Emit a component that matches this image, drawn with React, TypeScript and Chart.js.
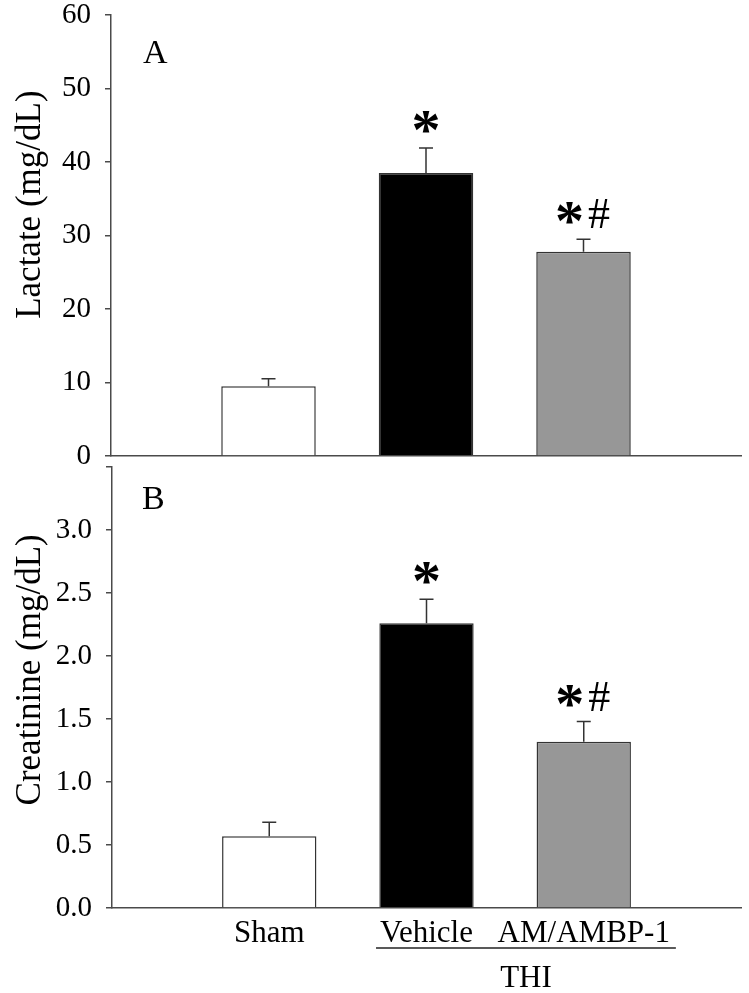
import React, { useEffect, useRef } from 'react';
import { Chart, registerables } from 'chart.js';

Chart.register(...registerables);

// ---- data ----
const categories = ['Sham', 'Vehicle', 'AM/AMBP-1'];
const groupLabel = 'THI';
const groupMembers = ['Vehicle', 'AM/AMBP-1'];

const lactateMeans = [9.5, 38.5, 27.8];
const lactateErrors = [1.0, 3.4, 1.7];
const lactateMarks = ['', '*', '*#'];
const lactateTicks = [0, 10, 20, 30, 40, 50, 60];

const creatinineMeans = [0.57, 2.26, 1.32];
const creatinineErrors = [0.11, 0.19, 0.16];
const creatinineMarks = ['', '*', '*#'];
const creatinineTicks = [0, 0.5, 1.0, 1.5, 2.0, 2.5, 3.0, 3.5];
const creatinineLabelledTicks = [0, 0.5, 1.0, 1.5, 2.0, 2.5, 3.0];

const barColors = ['#ffffff', '#000000', '#979797'];

const SERIF = "'Liberation Serif', 'Times New Roman', serif";
const AXIS_COLOR = '#4a4a4a';

type PanelProps = {
  means: number[];
  errors: number[];
  marks: string[];
  ticks: number[];
  tickLabel: (v: number) => string;
  yMax: number;
  yTitle: string;
  panelLetter: string;
  letterOffset: { dx: number; dy: number };
  showXLabels: boolean;
  canvasTop: number;
  canvasHeight: number;
  padding: { top: number; right: number; bottom: number; left: number };
  yWidth: number;
  xHeight: number;
  titleCenterFrac: number;
};

function Panel(p: PanelProps) {
  const ref = useRef<HTMLCanvasElement | null>(null);
  useEffect(() => {
    if (!ref.current) return;
    const labels = ['', ...categories, ''];
    const data = [null, ...p.means, null];
    const colors = ['#fff', ...barColors, '#fff'];

    const overlay = {
      id: 'overlay' + p.panelLetter,
      afterDatasetsDraw(chart: any) {
        const ctx = chart.ctx;
        const meta = chart.getDatasetMeta(0);
        const ys = chart.scales.y;
        const xs = chart.scales.x;
        const area = chart.chartArea;
        ctx.save();
        // error bars
        p.means.forEach((m, i) => {
          const el = meta.data[i + 1];
          const x = el.x;
          const yBar = ys.getPixelForValue(m);
          const yTop = ys.getPixelForValue(m + p.errors[i]);
          ctx.strokeStyle = '#333';
          ctx.lineWidth = 1.5;
          ctx.beginPath();
          ctx.moveTo(x, yBar);
          ctx.lineTo(x, yTop);
          ctx.moveTo(x - 7, yTop);
          ctx.lineTo(x + 7, yTop);
          ctx.stroke();
          // significance marks
          const mark = p.marks[i];
          if (mark) {
            const parts = mark.split('');
            const fonts = parts.map((c) => (c === '*' ? `bold 58px ${SERIF}` : `44px ${SERIF}`));
            const boxes = parts.map((c, k) => {
              ctx.font = fonts[k];
              const mt = ctx.measureText(c);
              return {
                left: mt.actualBoundingBoxLeft,
                right: mt.actualBoundingBoxRight,
                ascent: mt.actualBoundingBoxAscent,
                descent: mt.actualBoundingBoxDescent,
              };
            });
            const gap = 6;
            const widths = boxes.map((b) => b.left + b.right);
            const total = widths.reduce((a, b) => a + b, 0) + gap * (parts.length - 1);
            let cx = x - total / 2;
            ctx.fillStyle = '#000';
            ctx.textBaseline = 'alphabetic';
            ctx.textAlign = 'left';
            parts.forEach((c, k) => {
              ctx.font = fonts[k];
              const b = boxes[k];
              let base: number;
              if (c === '*') {
                // glyph top 37px above the cap
                base = yTop - 37 + b.ascent;
              } else {
                // glyph bottom 11px above the cap
                base = yTop - 11 - b.descent;
              }
              ctx.fillText(c, cx + b.left, base);
              cx += widths[k] + gap;
            });
          }
        });
        // panel letter
        ctx.fillStyle = '#000';
        ctx.font = `34px ${SERIF}`;
        ctx.textAlign = 'left';
        ctx.textBaseline = 'alphabetic';
        ctx.fillText(p.panelLetter, area.left + p.letterOffset.dx, area.top + p.letterOffset.dy);
        // y title
        ctx.save();
        ctx.translate(31, area.top + (area.bottom - area.top) * p.titleCenterFrac);
        ctx.rotate(-Math.PI / 2);
        ctx.font = `35px ${SERIF}`;
        ctx.textAlign = 'center';
        ctx.textBaseline = 'middle';
        ctx.fillText(p.yTitle, 0, 0);
        ctx.restore();
        // group label
        if (p.showXLabels) {
          const i1 = labels.indexOf(groupMembers[0]);
          const i2 = labels.indexOf(groupMembers[1]);
          ctx.font = `31px ${SERIF}`;
          const w1 = ctx.measureText(groupMembers[0]).width;
          const w2 = ctx.measureText(groupMembers[1]).width;
          const xa = xs.getPixelForTick(i1) - w1 / 2 - 4;
          const xb = xs.getPixelForTick(i2) + w2 / 2 + 6;
          const yLine = area.bottom + 40;
          ctx.strokeStyle = '#222';
          ctx.lineWidth = 1.5;
          ctx.beginPath();
          ctx.moveTo(xa, yLine);
          ctx.lineTo(xb, yLine);
          ctx.stroke();
          ctx.textAlign = 'center';
          ctx.textBaseline = 'alphabetic';
          ctx.fillText(groupLabel, (xa + xb) / 2, area.bottom + 79);
        }
        ctx.restore();
      },
    };

    const chart = new Chart(ref.current, {
      type: 'bar',
      data: {
        labels,
        datasets: [
          {
            data: data as any,
            backgroundColor: colors,
            borderColor: '#333',
            borderWidth: 1.5,
            categoryPercentage: 1,
            barPercentage: 0.6,
          },
        ],
      },
      options: {
        responsive: false,
        animation: false,
        devicePixelRatio: 1,
        layout: { padding: p.padding },
        plugins: { legend: { display: false }, tooltip: { enabled: false }, title: { display: false } },
        scales: {
          x: {
            type: 'category',
            offset: false,
            grid: { display: false, drawTicks: false },
            border: { display: true, color: AXIS_COLOR, width: 1.5 },
            ticks: {
              display: p.showXLabels,
              autoSkip: false,
              maxRotation: 0,
              minRotation: 0,
              padding: 7,
              color: '#000',
              font: { family: SERIF, size: 31 },
            },
            afterFit: (s: any) => {
              s.height = p.xHeight;
              s.paddingLeft = 0;
              s.paddingRight = 0;
            },
          },
          y: {
            type: 'linear',
            min: 0,
            max: p.yMax,
            afterBuildTicks: (s: any) => {
              s.ticks = p.ticks.map((v) => ({ value: v }));
            },
            grid: {
              display: true,
              drawOnChartArea: false,
              drawTicks: true,
              tickLength: 6,
              color: AXIS_COLOR,
              lineWidth: 1.5,
            },
            border: { display: true, color: AXIS_COLOR, width: 1.5 },
            ticks: {
              padding: 14,
              color: '#000',
              font: { family: SERIF, size: 29 },
              callback: (v: any) => p.tickLabel(Number(v)),
            },
            afterFit: (s: any) => {
              s.width = p.yWidth;
              s.paddingTop = 0;
              s.paddingBottom = 0;
            },
          },
        },
      },
      plugins: [overlay],
    } as any);
    return () => chart.destroy();
  }, []);
  return (
    <canvas
      ref={ref}
      width={749}
      height={p.canvasHeight}
      style={{ position: 'absolute', left: 0, top: p.canvasTop, width: 749, height: p.canvasHeight }}
    />
  );
}

export default function App() {
  return (
    <div style={{ position: 'absolute', left: 0, top: 0, width: 749, height: 993, background: '#fff', overflow: 'hidden' }}>
      <Panel
        means={lactateMeans}
        errors={lactateErrors}
        marks={lactateMarks}
        ticks={lactateTicks}
        tickLabel={(v) => String(v)}
        yMax={60}
        yTitle="Lactate (mg/dL)"
        panelLetter="A"
        letterOffset={{ dx: 32, dy: 48 }}
        showXLabels={false}
        canvasTop={0}
        canvasHeight={480}
        padding={{ top: 15, right: 8, bottom: 24, left: 0 }}
        yWidth={111}
        xHeight={0}
        titleCenterFrac={0.43}
      />
      <Panel
        means={creatinineMeans}
        errors={creatinineErrors}
        marks={creatinineMarks}
        ticks={creatinineTicks}
        tickLabel={(v) => (creatinineLabelledTicks.includes(v) ? v.toFixed(1) : '')}
        yMax={3.5}
        yTitle="Creatinine (mg/dL)"
        panelLetter="B"
        letterOffset={{ dx: 30, dy: 42 }}
        showXLabels={true}
        canvasTop={455}
        canvasHeight={538}
        padding={{ top: 12, right: 8, bottom: 0, left: 0 }}
        yWidth={112}
        xHeight={85}
        titleCenterFrac={0.46}
      />
    </div>
  );
}
